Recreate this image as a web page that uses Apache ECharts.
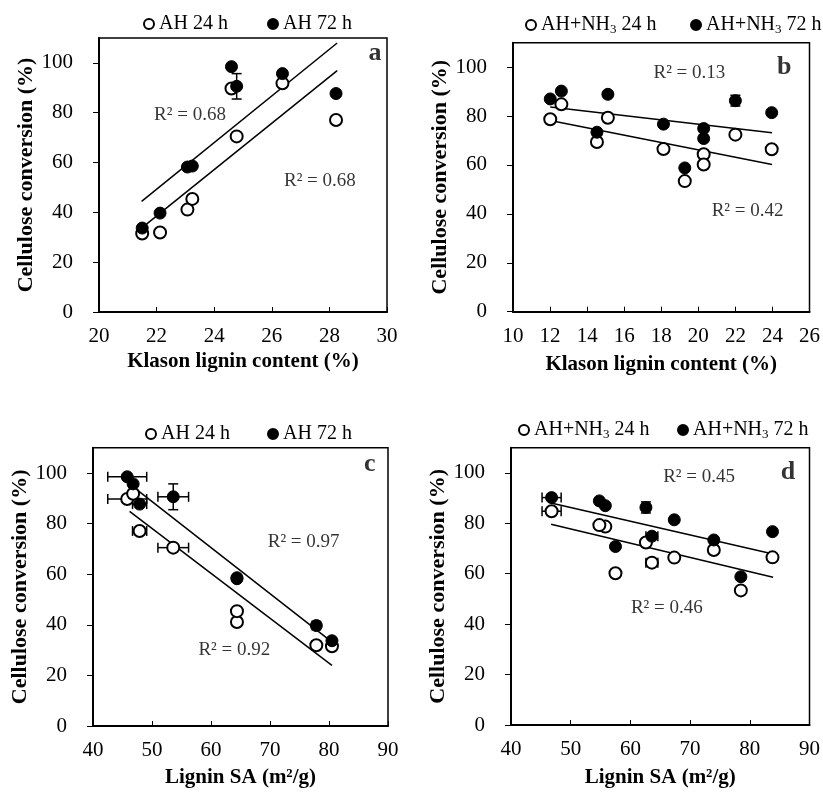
<!DOCTYPE html>
<html>
<head>
<meta charset="utf-8">
<script src="https://cdn.jsdelivr.net/npm/echarts@6/dist/echarts.min.js"></script>
<style>
  html, body { margin: 0; padding: 0; background: #fff; }
  #chart { width: 823px; height: 793px; }
</style>
</head>
<body>
<div id="chart"></div>
<script>
// ---- AH samples (same sample order in every array) ----
const klasonAH  = [21.5, 22.12, 23.07, 23.24, 24.6, 24.78, 26.37, 28.23];
const saAH      = [80.5, 77.85, 64.4, 64.4, 45.8, 53.6, 46.8, 47.9];
const saErrAH   = [0, 0.7, 0, 0, 3.3, 2.6, 0, 1.2];
const convAH24  = [31.5, 31.9, 41.1, 45.4, 89.7, 70.5, 91.8, 77.1];
const convAH72  = [33.7, 39.7, 58.2, 58.6, 98.5, 90.6, 95.7, 87.7];
const convErrAH72 = [0, 0, 0, 0, 0, 5.1, 0, 0];

// ---- AH+NH3 samples ----
const klasonNH  = [12.01, 12.61, 14.53, 15.12, 18.12, 19.27, 20.29, 20.29, 22.0, 23.96];
const saNH      = [55.8, 46.8, 73.97, 54.8, 83.8, 78.5, 63.6, 57.5, 62.6, 67.35];
const saErrNH   = [0, 1.6, 0, 0, 0, 0, 1.0, 0, 0, 0];
const convNH24  = [78.7, 84.8, 69.4, 79.3, 66.5, 53.4, 64.4, 60.2, 72.4, 66.4];
const convNH72  = [87.0, 90.2, 73.4, 88.9, 76.7, 58.8, 74.9, 70.8, 86.3, 81.4];
const convErrNH72 = [0, 0, 0, 0, 0, 0, 0, 0, 2.2, 0];

// ---- linear trend lines (end points) ----
const fitA24 = [[21.54, 34.3], [28.27, 96.9]];
const fitA72 = [[21.48, 44.4], [28.27, 108.0]];
const fitB24 = [[12.01, 78.2], [23.98, 60.2]];
const fitB72 = [[12.01, 83.7], [23.98, 73.2]];
const fitC24 = [[46.2, 84.8], [80.5, 24.0]];
const fitC72 = [[46.6, 94.9], [79.76, 34.5]];
const fitD24 = [[46.7, 79.6], [83.9, 58.6]];
const fitD72 = [[46.7, 88.1], [83.9, 67.8]];

// ---- annotations: [x, y, text] ----
const notesA = [[23.16, 79.2, 'R² = 0.68'], [27.67, 52.4, 'R² = 0.68']];
const notesB = [[19.52, 97.6, 'R² = 0.13'], [22.66, 41.1, 'R² = 0.42']];
const notesC = [[75.7, 72.6, 'R² = 0.97'], [63.95, 30.2, 'R² = 0.92']];
const notesD = [[71.5, 98.4, 'R² = 0.45'], [66.1, 46.3, 'R² = 0.46']];
const panelTags = [[29.58, 104, 'a'], [24.64, 100, 'b'], [86.9, 103.4, 'c'], [86.4, 100.4, 'd']];

// ---- axes ----
const yTicks = [0, 20, 40, 60, 80, 100];
const xTicksKlasonAH = [20, 22, 24, 26, 28, 30];
const xTicksKlasonNH = [10, 12, 14, 16, 18, 20, 22, 24, 26];
const xTicksSA = [40, 50, 60, 70, 80, 90];

const yTitle = 'Cellulose conversion (%)';
const xTitleKlason = 'Klason lignin content (%)';
const xTitleSA = 'Lignin SA (m²/g)';

const nameAH24 = 'AH 24 h', nameAH72 = 'AH 72 h';
const nameNH24 = 'AH+NH3 24 h', nameNH72 = 'AH+NH3 72 h';

const SERIF = "'Liberation Serif', 'Times New Roman', serif";

function pts(xs, ys) { return xs.map((x, i) => [x, ys[i]]); }
function errs(xs, ys, xe, ye) {
  return xs.map((x, i) => [x, ys[i], xe ? xe[i] : 0, ye ? ye[i] : 0])
           .filter(d => d[2] > 0 || d[3] > 0);
}

const grids = [
  { left: 99,  top: 38,    width: 288, height: 274 },
  { left: 513, top: 42.7,  width: 297, height: 269 },
  { left: 93,  top: 447.7, width: 295, height: 278.3 },
  { left: 511, top: 447.7, width: 302, height: 277.3 }
].map(g => Object.assign({ show: true, borderColor: '#000', borderWidth: 1.5, backgroundColor: 'transparent' }, g));

function xAxis(idx, ticks, title, gap) {
  return {
    type: 'value', gridIndex: idx,
    min: ticks[0], max: ticks[ticks.length - 1], interval: ticks[1] - ticks[0],
    name: title, nameLocation: 'middle', nameGap: gap,
    nameTextStyle: { fontFamily: SERIF, fontWeight: 'bold', fontSize: 21, color: '#000' },
    axisLine: { show: true, onZero: false, lineStyle: { color: '#000', width: 2 } },
    axisTick: { show: true, inside: true, length: 5, lineStyle: { color: '#000', width: 1 } },
    axisLabel: { fontFamily: SERIF, fontSize: 21, color: '#000', margin: 14 },
    splitLine: { show: false }
  };
}
function yAxis(idx, gap) {
  return {
    type: 'value', gridIndex: idx, min: 0, max: 110, interval: 20,
    name: yTitle, nameLocation: 'middle', nameGap: gap,
    nameTextStyle: { fontFamily: SERIF, fontWeight: 'bold', fontSize: 22, color: '#000' },
    axisLine: { show: true, onZero: false, lineStyle: { color: '#000', width: 2 } },
    axisTick: { show: true, inside: false, length: 6, customValues: yTicks, lineStyle: { color: '#000', width: 1 } },
    axisLabel: { fontFamily: SERIF, fontSize: 21, color: '#000', margin: 26, customValues: yTicks },
    splitLine: { show: false }
  };
}

const openStyle = { color: '#fff', borderColor: '#000', borderWidth: 2, opacity: 1 };
const fillStyle = { color: '#000', borderColor: '#000', borderWidth: 1, opacity: 1 };

function scatter(name, idx, data, style) {
  return {
    name, type: 'scatter', xAxisIndex: idx, yAxisIndex: idx, data,
    symbol: 'circle', symbolSize: 12, itemStyle: style, z: 4, silent: true
  };
}
function trend(idx, data) {
  return {
    type: 'line', xAxisIndex: idx, yAxisIndex: idx, data, symbol: 'none',
    lineStyle: { color: '#000', width: 1.5 }, z: 2, silent: true
  };
}
function errorBars(idx, data, z) {
  return {
    type: 'custom', xAxisIndex: idx, yAxisIndex: idx, data, z: z, silent: true,
    encode: { x: 0, y: 1 },
    renderItem: function (params, api) {
      const x = api.value(0), y = api.value(1), xe = api.value(2), ye = api.value(3);
      const cap = 5;
      const st = { stroke: '#000', lineWidth: 1.5 };
      const ch = [];
      if (xe > 0) {
        const a = api.coord([x - xe, y]), b = api.coord([x + xe, y]);
        ch.push({ type: 'line', shape: { x1: a[0], y1: a[1], x2: b[0], y2: b[1] }, style: st });
        ch.push({ type: 'line', shape: { x1: a[0], y1: a[1] - cap, x2: a[0], y2: a[1] + cap }, style: st });
        ch.push({ type: 'line', shape: { x1: b[0], y1: b[1] - cap, x2: b[0], y2: b[1] + cap }, style: st });
      }
      if (ye > 0) {
        const a = api.coord([x, y - ye]), b = api.coord([x, y + ye]);
        ch.push({ type: 'line', shape: { x1: a[0], y1: a[1], x2: b[0], y2: b[1] }, style: st });
        ch.push({ type: 'line', shape: { x1: a[0] - cap, y1: a[1], x2: a[0] + cap, y2: a[1] }, style: st });
        ch.push({ type: 'line', shape: { x1: b[0] - cap, y1: b[1], x2: b[0] + cap, y2: b[1] }, style: st });
      }
      return { type: 'group', children: ch };
    }
  };
}
function notes(idx, data, size, bold) {
  return {
    type: 'scatter', xAxisIndex: idx, yAxisIndex: idx, data, symbolSize: 0, z: 6, silent: true,
    label: {
      show: true, position: 'inside', formatter: p => p.data[2],
      fontFamily: SERIF, fontSize: size, fontWeight: bold ? 'bold' : 'normal', color: '#000'
    }
  };
}

// one legend box per entry so each can sit over its own panel
const legendRich = { sub: { fontFamily: SERIF, fontSize: 13, color: '#000', padding: [9, 0, 0, 0] } };
function legend(name, left, top) {
  return {
    data: [name], left, top, orient: 'horizontal', width: 300,
    itemWidth: 10, itemHeight: 10, selectedMode: false, padding: 0,
    formatter: n => n.replace('NH3', 'NH{sub|3}'),
    textStyle: { fontFamily: SERIF, fontSize: 20, color: '#000', rich: legendRich }
  };
}

const option = {
  backgroundColor: '#fff',
  animation: false,
  grid: grids,
  xAxis: [
    xAxis(0, xTicksKlasonAH, xTitleKlason, 39),
    xAxis(1, xTicksKlasonNH, xTitleKlason, 42),
    xAxis(2, xTicksSA, xTitleSA, 41),
    xAxis(3, xTicksSA, xTitleSA, 42)
  ],
  yAxis: [yAxis(0, 60), yAxis(1, 54), yAxis(2, 51), yAxis(3, 52)],
  legend: [
    legend(nameAH24, 143, 14), legend(nameAH72, 267, 14),
    legend(nameNH24, 525, 15), legend(nameNH72, 690, 15),
    legend(nameAH24, 145, 424), legend(nameAH72, 267, 424),
    legend(nameNH24, 518, 420), legend(nameNH72, 677, 420)
  ],
  series: [
    // a: Klason lignin, AH
    trend(0, fitA24), trend(0, fitA72),
    scatter(nameAH24, 0, pts(klasonAH, convAH24), openStyle),
    errorBars(0, errs(klasonAH, convAH72, null, convErrAH72), 3),
    scatter(nameAH72, 0, pts(klasonAH, convAH72), fillStyle),
    notes(0, notesA, 19, false),
    // b: Klason lignin, AH+NH3
    trend(1, fitB24), trend(1, fitB72),
    scatter(nameNH24, 1, pts(klasonNH, convNH24), openStyle),
    errorBars(1, errs(klasonNH, convNH72, null, convErrNH72), 3),
    scatter(nameNH72, 1, pts(klasonNH, convNH72), fillStyle),
    notes(1, notesB, 19, false),
    // c: lignin SA, AH
    trend(2, fitC24), trend(2, fitC72),
    errorBars(2, errs(saAH, convAH24, saErrAH, null), 3),
    scatter(nameAH24, 2, pts(saAH, convAH24), openStyle),
    errorBars(2, errs(saAH, convAH72, saErrAH, convErrAH72), 3),
    scatter(nameAH72, 2, pts(saAH, convAH72), fillStyle),
    notes(2, notesC, 19, false),
    // d: lignin SA, AH+NH3
    trend(3, fitD24), trend(3, fitD72),
    errorBars(3, errs(saNH, convNH24, saErrNH, null), 3),
    scatter(nameNH24, 3, pts(saNH, convNH24), openStyle),
    errorBars(3, errs(saNH, convNH72, saErrNH, convErrNH72), 3),
    scatter(nameNH72, 3, pts(saNH, convNH72), fillStyle),
    notes(3, notesD, 19, false),
    // panel letters
    ...panelTags.map((t, i) => notes(i, [t], 26, true))
  ]
};

const chart = echarts.init(document.getElementById('chart'), null, { renderer: 'canvas' });
chart.setOption(option);
</script>
</body>
</html>
